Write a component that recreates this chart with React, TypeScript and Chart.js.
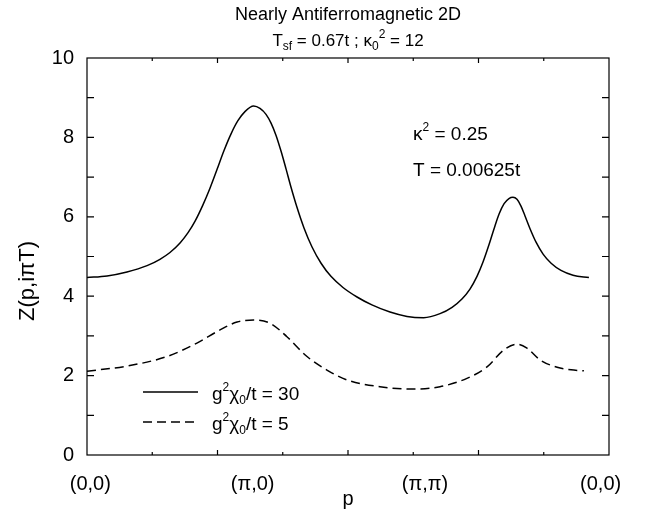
import React, { useEffect, useRef } from "react";
import { Chart, registerables } from "chart.js";

Chart.register(...registerables);

const FAMILY = "'Liberation Sans', Arial, Helvetica, sans-serif";

// x axis: path (0,0) -> (π,0) -> (π,π) -> (0,0), one unit per segment
const X_MAX = 3.12;
const xLabelPositions = [0.02, 0.99, 2.02, 3.07];
const xLabels = ["(0,0)", "(π,0)", "(π,π)", "(0,0)"];
const yTickValues = [0, 2, 4, 6, 8, 10];

// g²χ0/t = 30 (solid)
const solidX = [0, 0.12, 0.239, 0.359, 0.436, 0.496, 0.556, 0.604, 0.646, 0.693, 0.735, 0.777, 0.819, 0.861, 0.902, 0.944, 0.996, 1.034, 1.07, 1.1, 1.13, 1.16, 1.19, 1.219, 1.255, 1.297, 1.345, 1.399, 1.458, 1.53, 1.614, 1.703, 1.811, 1.913, 2.012, 2.11, 2.182, 2.241, 2.289, 2.331, 2.367, 2.403, 2.433, 2.463, 2.493, 2.522, 2.546, 2.57, 2.594, 2.618, 2.648, 2.684, 2.726, 2.774, 2.833, 2.905, 3.0];
const solidY = [4.47, 4.51, 4.61, 4.77, 4.93, 5.1, 5.34, 5.6, 5.89, 6.3, 6.72, 7.19, 7.67, 8.09, 8.42, 8.65, 8.79, 8.73, 8.58, 8.36, 8.05, 7.65, 7.2, 6.75, 6.24, 5.72, 5.24, 4.83, 4.5, 4.22, 3.98, 3.78, 3.6, 3.49, 3.46, 3.56, 3.72, 3.93, 4.18, 4.5, 4.86, 5.3, 5.7, 6.07, 6.33, 6.46, 6.49, 6.44, 6.27, 6.02, 5.7, 5.36, 5.06, 4.83, 4.65, 4.53, 4.47];

// g²χ0/t = 5 (dashed)
const dashedX = [0, 0.239, 0.478, 0.657, 0.795, 0.897, 0.996, 1.094, 1.195, 1.315, 1.434, 1.554, 1.751, 1.953, 2.11, 2.271, 2.391, 2.49, 2.57, 2.63, 2.71, 2.81, 2.91, 2.97];
const dashedY = [2.11, 2.24, 2.48, 2.82, 3.15, 3.35, 3.4, 3.32, 2.98, 2.48, 2.14, 1.89, 1.72, 1.66, 1.72, 1.93, 2.22, 2.64, 2.79, 2.69, 2.39, 2.21, 2.14, 2.12];

type Part = { t: string; size: number; dy?: number };

function drawRich(ctx: CanvasRenderingContext2D, parts: Part[], x: number, y: number, align: "left" | "center") {
  ctx.textAlign = "left";
  ctx.textBaseline = "alphabetic";
  let w = 0;
  for (const p of parts) {
    ctx.font = `${p.size}px ${FAMILY}`;
    w += ctx.measureText(p.t).width;
  }
  let cx = align === "center" ? x - w / 2 : x;
  for (const p of parts) {
    ctx.font = `${p.size}px ${FAMILY}`;
    ctx.fillText(p.t, cx, y + (p.dy || 0));
    cx += ctx.measureText(p.t).width;
  }
}

const framePlugin = {
  id: "frame",
  afterDatasetsDraw(chart: any) {
    const { ctx, chartArea: a, scales } = chart;
    const xs = scales.x;
    const ys = scales.y;
    ctx.save();
    ctx.strokeStyle = "#000";
    ctx.lineWidth = 1.2;
    ctx.setLineDash([]);
    ctx.strokeRect(a.left, a.top, a.right - a.left, a.bottom - a.top);
    ctx.beginPath();
    for (let i = 1; i < 8; i++) {
      const px = xs.getPixelForValue((i * X_MAX) / 8);
      const len = i % 2 === 0 ? 5 : 3;
      ctx.moveTo(px, a.bottom);
      ctx.lineTo(px, a.bottom - len);
      ctx.moveTo(px, a.top);
      ctx.lineTo(px, a.top + len);
    }
    for (let v = 1; v < 10; v++) {
      const py = ys.getPixelForValue(v);
      ctx.moveTo(a.left, py);
      ctx.lineTo(a.left + 7, py);
      ctx.moveTo(a.right, py);
      ctx.lineTo(a.right - 7, py);
    }
    ctx.stroke();

    ctx.fillStyle = "#000";
    const cxm = (a.left + a.right) / 2;
    // titles
    drawRich(ctx, [{ t: "Nearly Antiferromagnetic 2D", size: 18 }], cxm, 20, "center");
    drawRich(
      ctx,
      [
        { t: "T", size: 17 },
        { t: "sf", size: 12, dy: 4 },
        { t: " = 0.67t ; κ", size: 17 },
        { t: "0", size: 12, dy: 4 },
        { t: "2", size: 12, dy: -8 },
        { t: " = 12", size: 17 },
      ],
      cxm,
      46,
      "center"
    );
    // annotations
    drawRich(ctx, [{ t: "κ", size: 19 }, { t: "2", size: 12, dy: -9 }, { t: " = 0.25", size: 19 }], 413, 140, "left");
    drawRich(ctx, [{ t: "T = 0.00625t", size: 19 }], 413, 176, "left");

    // legend
    ctx.lineWidth = 1.5;
    ctx.beginPath();
    ctx.moveTo(143, 392);
    ctx.lineTo(198, 392);
    ctx.stroke();
    ctx.setLineDash([9, 5]);
    ctx.beginPath();
    ctx.moveTo(143, 422);
    ctx.lineTo(198, 422);
    ctx.stroke();
    ctx.setLineDash([]);
    drawRich(
      ctx,
      [
        { t: "g", size: 19 },
        { t: "2", size: 12, dy: -9 },
        { t: "χ", size: 19 },
        { t: "0", size: 12, dy: 4 },
        { t: "/t = 30", size: 19 },
      ],
      212,
      400,
      "left"
    );
    drawRich(
      ctx,
      [
        { t: "g", size: 19 },
        { t: "2", size: 12, dy: -9 },
        { t: "χ", size: 19 },
        { t: "0", size: 12, dy: 4 },
        { t: "/t = 5", size: 19 },
      ],
      212,
      430,
      "left"
    );

    // axis titles
    ctx.font = `20px ${FAMILY}`;
    ctx.textAlign = "center";
    ctx.textBaseline = "middle";
    ctx.fillText("p", cxm, 499);
    ctx.font = `22px ${FAMILY}`;
    ctx.translate(28, 281);
    ctx.rotate(-Math.PI / 2);
    ctx.fillText("Z(p,iπT)", 0, 0);
    ctx.restore();
  },
};

export default function App() {
  const ref = useRef<HTMLCanvasElement>(null);
  useEffect(() => {
    const chart = new Chart(ref.current as HTMLCanvasElement, {
      type: "line",
      data: {
        datasets: [
          {
            label: "g²χ0/t = 30",
            data: solidX.map((x, i) => ({ x, y: solidY[i] })),
            borderColor: "#000",
            borderWidth: 1.5,
            pointRadius: 0,
            fill: false,
            cubicInterpolationMode: "monotone",
          },
          {
            label: "g²χ0/t = 5",
            data: dashedX.map((x, i) => ({ x, y: dashedY[i] })),
            borderColor: "#000",
            borderWidth: 1.5,
            borderDash: [9, 5],
            pointRadius: 0,
            fill: false,
            cubicInterpolationMode: "monotone",
          },
        ],
      },
      options: {
        animation: false,
        responsive: false,
        layout: { padding: { top: 58, right: 38, left: 0, bottom: 0 } },
        plugins: {
          legend: { display: false },
          title: { display: false },
          tooltip: { enabled: false },
        },
        scales: {
          x: {
            type: "linear",
            min: 0,
            max: X_MAX,
            grid: { display: false, drawTicks: false },
            border: { display: false },
            afterBuildTicks: (s: any) => {
              s.ticks = xLabelPositions.map((v) => ({ value: v }));
            },
            afterFit: (s: any) => {
              s.height = 57;
            },
            ticks: {
              autoSkip: false,
              maxRotation: 0,
              padding: 17,
              color: "#000",
              font: { size: 20, family: FAMILY },
              callback: (_v: any, i: number) => xLabels[i],
            },
          },
          y: {
            min: 0,
            max: 10,
            grid: { display: false, drawTicks: false },
            border: { display: false },
            afterBuildTicks: (s: any) => {
              s.ticks = yTickValues.map((v) => ({ value: v }));
            },
            afterFit: (s: any) => {
              s.width = 87;
            },
            ticks: {
              padding: 13,
              color: "#000",
              font: { size: 20, family: FAMILY },
            },
          },
        },
      } as any,
      plugins: [framePlugin],
    });
    return () => chart.destroy();
  }, []);
  return (
    <div style={{ position: "fixed", left: 0, top: 0, width: 647, height: 512, background: "#fff" }}>
      <canvas ref={ref} width={647} height={512} style={{ width: 647, height: 512, display: "block" }} />
    </div>
  );
}
